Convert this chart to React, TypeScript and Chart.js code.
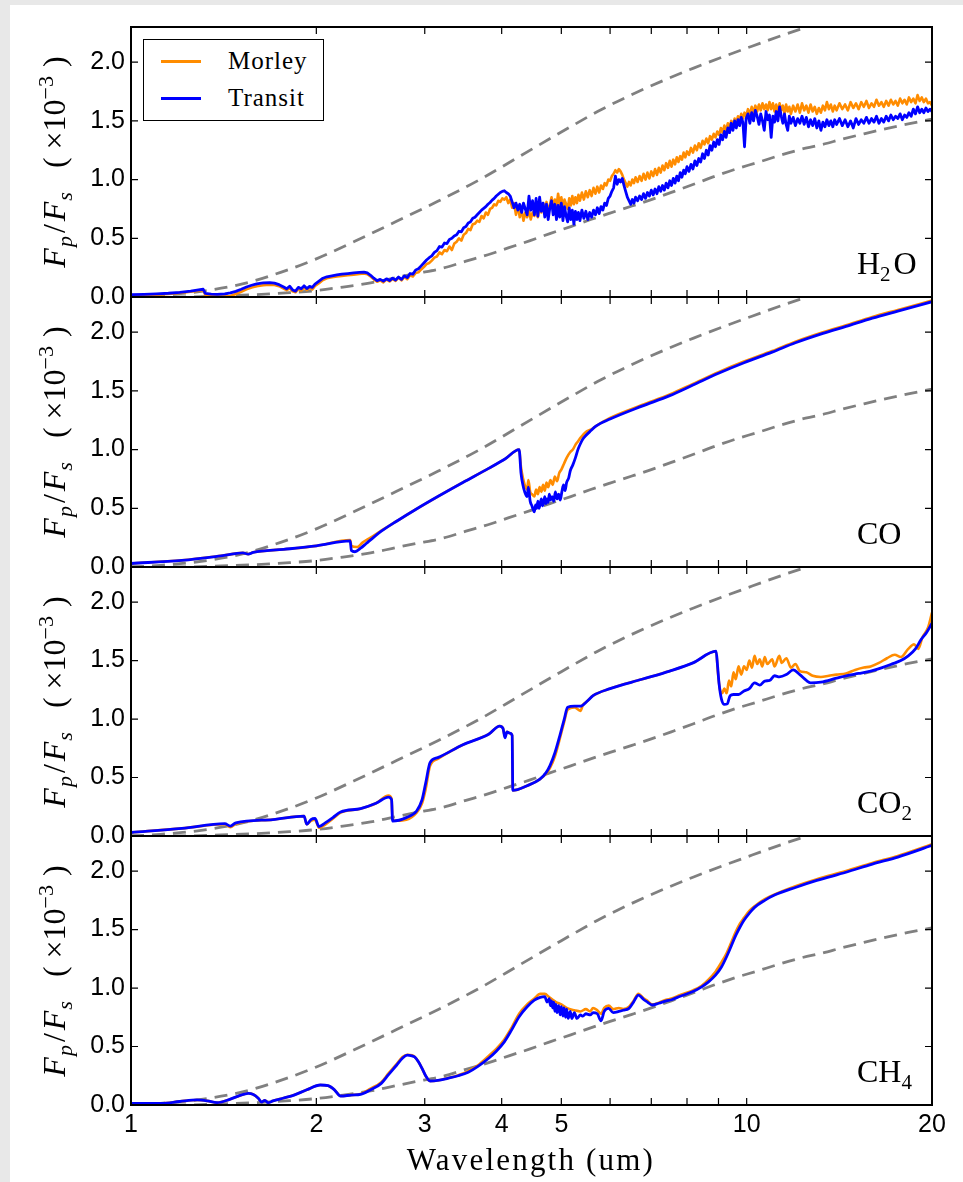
import React, { useEffect, useRef } from "react";
import { Chart, registerables } from "chart.js";

Chart.register(...registerables);

// ---------------- data ----------------
const X_MIN = 1;
const X_MAX = 20;
const Y_MIN = 0;
const Y_MAX = 2.3;
const X_TICKS = [1, 2, 3, 4, 5, 6, 7, 8, 9, 10, 20];
const X_LABELS = [1, 2, 3, 4, 5, 10, 20];
const Y_TICKS = [0, 0.5, 1.0, 1.5, 2.0];
const SERIES_NAMES = ["Morley", "Transit"];
const PANEL_NAMES = ["H2O", "CO", "CO2", "CH4"];
const X_TITLE = "Wavelength (um)";

type Pt = [number, number];

const BB_UPPER: Pt[] = [
  [1.0, 0.0], [1.1, 0.012], [1.25, 0.037], [1.5, 0.105], [1.75, 0.21], [2.0, 0.325],
  [2.3, 0.47], [2.7, 0.645], [3.15, 0.815], [3.7, 1.005], [4.3, 1.205], [5.0, 1.405],
  [5.8, 1.595], [6.8, 1.77], [8.2, 1.95], [10, 2.12], [12.2, 2.28], [15, 2.42], [20, 2.56],
];

const BB_LOWER: Pt[] = [
  [1.0, 0.0], [1.2, 0.0], [1.4, 0.01], [1.6, 0.02], [1.81, 0.037], [2.0, 0.055],
  [2.21, 0.085], [2.45, 0.12], [2.65, 0.157], [2.9, 0.2], [3.18, 0.24], [3.5, 0.305],
  [3.8, 0.36], [4.11, 0.42], [4.45, 0.48], [4.79, 0.54], [5.18, 0.6], [5.58, 0.66],
  [6.0, 0.715], [6.51, 0.775], [7.0, 0.83], [7.63, 0.9], [8.2, 0.96], [8.9, 1.03],
  [9.6, 1.09], [10.4, 1.145], [11.3, 1.205], [12.3, 1.26], [13.3, 1.3], [14.3, 1.345],
  [15.5, 1.39], [16.7, 1.43], [18.3, 1.475], [20, 1.515],
];

const H2O_TRANSIT: Pt[] = [
  [1.0, 0.02], [1.05, 0.022], [1.1, 0.026], [1.15, 0.032], [1.2, 0.04], [1.25, 0.05], [1.28, 0.058],
  [1.31, 0.066], [1.32, 0.03], [1.35, 0.025], [1.38, 0.022], [1.42, 0.026], [1.45, 0.035], [1.48, 0.048],
  [1.51, 0.066], [1.54, 0.085], [1.57, 0.1], [1.6, 0.112], [1.64, 0.12], [1.68, 0.122], [1.71, 0.118],
  [1.74, 0.105], [1.77, 0.085], [1.79, 0.07], [1.81, 0.092], [1.83, 0.06], [1.85, 0.05], [1.87, 0.082],
  [1.89, 0.07], [1.91, 0.095], [1.93, 0.072], [1.95, 0.09], [1.97, 0.082], [1.99, 0.11], [2.02, 0.135],
  [2.05, 0.16], [2.08, 0.172], [2.12, 0.18], [2.16, 0.188], [2.2, 0.195], [2.25, 0.2], [2.3, 0.205],
  [2.35, 0.21], [2.39, 0.212], [2.42, 0.205], [2.45, 0.185], [2.48, 0.16], [2.51, 0.14], [2.54, 0.15],
  [2.57, 0.135], [2.6, 0.155], [2.63, 0.14], [2.66, 0.16], [2.69, 0.145], [2.72, 0.17], [2.75, 0.15],
  [2.78, 0.18], [2.81, 0.165], [2.84, 0.2], [2.87, 0.195], [2.9, 0.23], [2.93, 0.24], [2.96, 0.265],
  [2.99, 0.29], [3.02, 0.315], [3.05, 0.335], [3.08, 0.35], [3.11, 0.38], [3.14, 0.395], [3.17, 0.43],
  [3.2, 0.425], [3.23, 0.46], [3.26, 0.455], [3.29, 0.49], [3.32, 0.5], [3.35, 0.52], [3.38, 0.53],
  [3.41, 0.56], [3.44, 0.555], [3.47, 0.59], [3.5, 0.6], [3.53, 0.63], [3.56, 0.64], [3.59, 0.67],
  [3.62, 0.68], [3.65, 0.7], [3.68, 0.72], [3.71, 0.74], [3.74, 0.755], [3.77, 0.77], [3.8, 0.79],
  [3.83, 0.805], [3.86, 0.825], [3.89, 0.84], [3.92, 0.86], [3.95, 0.875], [3.98, 0.89], [4.01, 0.9],
  [4.04, 0.905], [4.07, 0.89], [4.1, 0.88], [4.13, 0.86], [4.16, 0.81], [4.19, 0.76], [4.22, 0.8],
  [4.25, 0.74], [4.28, 0.79], [4.31, 0.72], [4.34, 0.8], [4.37, 0.75], [4.4, 0.7], [4.43, 0.86],
  [4.46, 0.74], [4.49, 0.82], [4.52, 0.7], [4.55, 0.84], [4.58, 0.69], [4.61, 0.85], [4.64, 0.73],
  [4.67, 0.8], [4.7, 0.68], [4.73, 0.79], [4.76, 0.66], [4.79, 0.76], [4.82, 0.82], [4.85, 0.7],
  [4.88, 0.79], [4.91, 0.66], [4.94, 0.78], [4.97, 0.68], [5.0, 0.8], [5.03, 0.65], [5.06, 0.77],
  [5.09, 0.69], [5.12, 0.64], [5.15, 0.76], [5.18, 0.66], [5.21, 0.74], [5.24, 0.62], [5.27, 0.73],
  [5.3, 0.66], [5.33, 0.72], [5.36, 0.65], [5.4, 0.74], [5.44, 0.67], [5.48, 0.73], [5.52, 0.66],
  [5.56, 0.72], [5.6, 0.68], [5.64, 0.74], [5.68, 0.7], [5.72, 0.76], [5.76, 0.71], [5.8, 0.77],
  [5.84, 0.74], [5.88, 0.8], [5.92, 0.78], [5.96, 0.84], [6.0, 0.86], [6.04, 0.9], [6.08, 0.93],
  [6.12, 1.03], [6.16, 0.96], [6.2, 1.0], [6.24, 0.98], [6.28, 1.01], [6.32, 0.95], [6.36, 0.9],
  [6.4, 0.85], [6.44, 0.82], [6.48, 0.79], [6.52, 0.83], [6.56, 0.8], [6.6, 0.85], [6.65, 0.82],
  [6.7, 0.86], [6.75, 0.83], [6.8, 0.88], [6.85, 0.84], [6.9, 0.89], [6.95, 0.86], [7.0, 0.91],
  [7.05, 0.87], [7.1, 0.92], [7.15, 0.88], [7.2, 0.94], [7.25, 0.9], [7.3, 0.95], [7.35, 0.91],
  [7.4, 0.97], [7.45, 0.93], [7.5, 0.99], [7.55, 0.95], [7.6, 1.01], [7.65, 0.97], [7.7, 1.03],
  [7.75, 0.99], [7.8, 1.06], [7.85, 1.02], [7.9, 1.08], [7.95, 1.05], [8.0, 1.11], [8.06, 1.07],
  [8.12, 1.13], [8.18, 1.09], [8.24, 1.16], [8.3, 1.12], [8.36, 1.18], [8.42, 1.15], [8.48, 1.22],
  [8.54, 1.18], [8.6, 1.25], [8.66, 1.21], [8.72, 1.29], [8.78, 1.25], [8.84, 1.32], [8.9, 1.28],
  [8.96, 1.34], [9.02, 1.3], [9.08, 1.38], [9.14, 1.34], [9.2, 1.41], [9.26, 1.36], [9.32, 1.44],
  [9.38, 1.4], [9.44, 1.48], [9.5, 1.42], [9.56, 1.5], [9.62, 1.44], [9.68, 1.51], [9.74, 1.46],
  [9.8, 1.53], [9.86, 1.49], [9.92, 1.28], [9.98, 1.52], [10.05, 1.56], [10.12, 1.48], [10.19, 1.57],
  [10.26, 1.5], [10.33, 1.59], [10.4, 1.54], [10.47, 1.47], [10.54, 1.56], [10.61, 1.5], [10.68, 1.42],
  [10.75, 1.58], [10.82, 1.51], [10.89, 1.55], [10.96, 1.36], [11.03, 1.54], [11.1, 1.49], [11.17, 1.58],
  [11.24, 1.5], [11.31, 1.62], [11.38, 1.54], [11.45, 1.48], [11.52, 1.56], [11.59, 1.47], [11.66, 1.42],
  [11.73, 1.54], [11.8, 1.48], [11.9, 1.53], [12.0, 1.46], [12.1, 1.52], [12.2, 1.48], [12.3, 1.54],
  [12.4, 1.47], [12.5, 1.53], [12.6, 1.45], [12.7, 1.51], [12.8, 1.46], [12.9, 1.52], [13.0, 1.44],
  [13.1, 1.5], [13.2, 1.42], [13.3, 1.49], [13.4, 1.45], [13.5, 1.51], [13.6, 1.46], [13.7, 1.5],
  [13.8, 1.45], [13.9, 1.51], [14.0, 1.47], [14.15, 1.52], [14.3, 1.46], [14.45, 1.51], [14.6, 1.45],
  [14.75, 1.5], [14.9, 1.44], [15.05, 1.52], [15.2, 1.47], [15.35, 1.51], [15.5, 1.48], [15.65, 1.53],
  [15.8, 1.48], [15.95, 1.52], [16.1, 1.49], [16.25, 1.54], [16.4, 1.48], [16.55, 1.52], [16.7, 1.49],
  [16.85, 1.54], [17.0, 1.5], [17.15, 1.55], [17.3, 1.51], [17.45, 1.54], [17.6, 1.52], [17.75, 1.56],
  [17.9, 1.51], [18.05, 1.55], [18.2, 1.53], [18.35, 1.57], [18.5, 1.54], [18.65, 1.6], [18.8, 1.56],
  [18.95, 1.62], [19.1, 1.57], [19.25, 1.6], [19.4, 1.57], [19.55, 1.61], [19.7, 1.58], [19.85, 1.6],
  [20.0, 1.58],
];

const H2O_MORLEY: Pt[] = [
  [1.0, 0.015], [1.05, 0.017], [1.1, 0.02], [1.15, 0.026], [1.2, 0.035], [1.25, 0.045], [1.28, 0.052],
  [1.31, 0.058], [1.32, 0.02], [1.35, 0.01], [1.38, 0.004], [1.42, 0.003], [1.45, 0.008], [1.48, 0.025],
  [1.51, 0.045], [1.54, 0.065], [1.57, 0.08], [1.6, 0.092], [1.64, 0.1], [1.68, 0.104], [1.71, 0.102],
  [1.74, 0.092], [1.77, 0.072], [1.79, 0.058], [1.81, 0.075], [1.83, 0.048], [1.85, 0.04], [1.87, 0.068],
  [1.89, 0.055], [1.91, 0.08], [1.93, 0.06], [1.95, 0.078], [1.97, 0.065], [1.99, 0.095], [2.02, 0.118],
  [2.05, 0.145], [2.08, 0.16], [2.12, 0.168], [2.16, 0.175], [2.2, 0.18], [2.25, 0.185], [2.3, 0.19],
  [2.35, 0.196], [2.39, 0.2], [2.42, 0.195], [2.45, 0.175], [2.48, 0.15], [2.51, 0.13], [2.54, 0.142],
  [2.57, 0.125], [2.6, 0.15], [2.63, 0.132], [2.66, 0.155], [2.69, 0.138], [2.72, 0.165], [2.75, 0.142],
  [2.78, 0.172], [2.81, 0.152], [2.84, 0.185], [2.87, 0.175], [2.9, 0.205], [2.93, 0.21], [2.96, 0.235],
  [2.99, 0.255], [3.02, 0.28], [3.05, 0.29], [3.08, 0.31], [3.11, 0.335], [3.14, 0.345], [3.17, 0.38],
  [3.2, 0.365], [3.23, 0.4], [3.26, 0.39], [3.29, 0.43], [3.32, 0.4], [3.35, 0.455], [3.38, 0.47],
  [3.41, 0.5], [3.44, 0.48], [3.47, 0.53], [3.5, 0.545], [3.53, 0.58], [3.56, 0.57], [3.59, 0.62],
  [3.62, 0.625], [3.65, 0.65], [3.68, 0.64], [3.71, 0.69], [3.74, 0.67], [3.77, 0.72], [3.8, 0.7],
  [3.83, 0.75], [3.86, 0.76], [3.89, 0.79], [3.92, 0.78], [3.95, 0.82], [3.98, 0.81], [4.01, 0.84],
  [4.04, 0.83], [4.07, 0.85], [4.1, 0.8], [4.13, 0.83], [4.16, 0.76], [4.19, 0.8], [4.22, 0.7],
  [4.25, 0.78], [4.28, 0.68], [4.31, 0.74], [4.34, 0.65], [4.37, 0.72], [4.4, 0.68], [4.43, 0.74],
  [4.46, 0.66], [4.49, 0.72], [4.52, 0.69], [4.55, 0.75], [4.58, 0.68], [4.61, 0.78], [4.64, 0.72],
  [4.67, 0.8], [4.7, 0.73], [4.73, 0.81], [4.76, 0.74], [4.79, 0.78], [4.82, 0.85], [4.85, 0.76],
  [4.88, 0.83], [4.91, 0.77], [4.94, 0.88], [4.97, 0.79], [5.0, 0.85], [5.03, 0.76], [5.06, 0.83],
  [5.09, 0.79], [5.12, 0.75], [5.15, 0.84], [5.18, 0.78], [5.21, 0.86], [5.24, 0.79], [5.27, 0.85],
  [5.3, 0.8], [5.33, 0.87], [5.36, 0.82], [5.4, 0.89], [5.44, 0.83], [5.48, 0.9], [5.52, 0.85],
  [5.56, 0.91], [5.6, 0.86], [5.64, 0.93], [5.68, 0.88], [5.72, 0.94], [5.76, 0.89], [5.8, 0.95],
  [5.84, 0.92], [5.88, 0.97], [5.92, 0.95], [5.96, 1.0], [6.0, 0.99], [6.04, 1.03], [6.08, 1.05],
  [6.12, 1.08], [6.16, 1.06], [6.2, 1.09], [6.24, 1.07], [6.28, 1.04], [6.32, 1.0], [6.36, 0.97],
  [6.4, 0.94], [6.44, 0.98], [6.48, 0.95], [6.52, 1.0], [6.56, 0.97], [6.6, 1.02], [6.65, 0.98],
  [6.7, 1.03], [6.75, 0.99], [6.8, 1.05], [6.85, 1.0], [6.9, 1.06], [6.95, 1.01], [7.0, 1.07],
  [7.05, 1.03], [7.1, 1.09], [7.15, 1.04], [7.2, 1.1], [7.25, 1.06], [7.3, 1.12], [7.35, 1.08],
  [7.4, 1.14], [7.45, 1.1], [7.5, 1.16], [7.55, 1.11], [7.6, 1.17], [7.65, 1.13], [7.7, 1.19],
  [7.75, 1.15], [7.8, 1.2], [7.85, 1.17], [7.9, 1.23], [7.95, 1.19], [8.0, 1.24], [8.06, 1.21],
  [8.12, 1.27], [8.18, 1.23], [8.24, 1.29], [8.3, 1.25], [8.36, 1.31], [8.42, 1.27], [8.48, 1.33],
  [8.54, 1.3], [8.6, 1.35], [8.66, 1.31], [8.72, 1.37], [8.78, 1.34], [8.84, 1.39], [8.9, 1.36],
  [8.96, 1.41], [9.02, 1.38], [9.08, 1.44], [9.14, 1.4], [9.2, 1.46], [9.26, 1.42], [9.32, 1.48],
  [9.38, 1.44], [9.44, 1.5], [9.5, 1.46], [9.56, 1.52], [9.62, 1.48], [9.68, 1.54], [9.74, 1.5],
  [9.8, 1.56], [9.86, 1.52], [9.92, 1.57], [9.98, 1.54], [10.05, 1.6], [10.12, 1.55], [10.19, 1.62],
  [10.26, 1.57], [10.33, 1.63], [10.4, 1.58], [10.47, 1.64], [10.54, 1.59], [10.61, 1.65], [10.68, 1.6],
  [10.75, 1.64], [10.82, 1.59], [10.89, 1.66], [10.96, 1.6], [11.03, 1.65], [11.1, 1.58], [11.17, 1.64],
  [11.24, 1.57], [11.31, 1.65], [11.38, 1.59], [11.45, 1.63], [11.52, 1.56], [11.59, 1.64], [11.66, 1.58],
  [11.73, 1.62], [11.8, 1.56], [11.9, 1.63], [12.0, 1.58], [12.1, 1.64], [12.2, 1.57], [12.3, 1.65],
  [12.4, 1.59], [12.5, 1.63], [12.6, 1.57], [12.7, 1.64], [12.8, 1.58], [12.9, 1.62], [13.0, 1.56],
  [13.1, 1.61], [13.2, 1.57], [13.3, 1.63], [13.4, 1.59], [13.5, 1.66], [13.6, 1.6], [13.7, 1.64],
  [13.8, 1.58], [13.9, 1.63], [14.0, 1.59], [14.15, 1.65], [14.3, 1.6], [14.45, 1.64], [14.6, 1.59],
  [14.75, 1.66], [14.9, 1.61], [15.05, 1.65], [15.2, 1.6], [15.35, 1.66], [15.5, 1.62], [15.65, 1.67],
  [15.8, 1.61], [15.95, 1.65], [16.1, 1.62], [16.25, 1.68], [16.4, 1.63], [16.55, 1.66], [16.7, 1.62],
  [16.85, 1.67], [17.0, 1.63], [17.15, 1.68], [17.3, 1.64], [17.45, 1.67], [17.6, 1.63], [17.75, 1.69],
  [17.9, 1.65], [18.05, 1.68], [18.2, 1.64], [18.35, 1.7], [18.5, 1.66], [18.65, 1.69], [18.8, 1.65],
  [18.95, 1.72], [19.1, 1.67], [19.25, 1.7], [19.4, 1.66], [19.55, 1.69], [19.7, 1.65], [19.85, 1.66],
  [20.0, 1.63],
];

const CO_TRANSIT: Pt[] = [
  [1.0, 0.03], [1.21, 0.057], [1.4, 0.095], [1.52, 0.12], [1.55, 0.11], [1.58, 0.125],
  [1.77, 0.15], [2.0, 0.18], [2.27, 0.222], [2.28, 0.14], [2.31, 0.13], [2.36, 0.16],
  [2.41, 0.2], [2.48, 0.255], [2.55, 0.305], [2.7, 0.39], [2.9, 0.49], [3.15, 0.6],
  [3.46, 0.72], [3.81, 0.84], [4.05, 0.92], [4.27, 1.0], [4.3, 0.8], [4.33, 0.7],
  [4.36, 0.64], [4.4, 0.6], [4.42, 0.68], [4.45, 0.56], [4.48, 0.52], [4.5, 0.49], [4.52, 0.47],
  [4.54, 0.53], [4.56, 0.5], [4.58, 0.56], [4.6, 0.5], [4.62, 0.54], [4.64, 0.58], [4.66, 0.52],
  [4.68, 0.55], [4.7, 0.6], [4.72, 0.54], [4.74, 0.58], [4.76, 0.55], [4.78, 0.62], [4.8, 0.57],
  [4.83, 0.6], [4.86, 0.56], [4.89, 0.64], [4.92, 0.58], [4.95, 0.62], [4.98, 0.57], [5.01, 0.64],
  [5.04, 0.7], [5.07, 0.65], [5.1, 0.72], [5.14, 0.76], [5.17, 0.82], [5.22, 0.87], [5.27, 0.93],
  [5.32, 1.0], [5.37, 1.05], [5.42, 1.09], [5.48, 1.12], [5.58, 1.16], [5.69, 1.2], [6.0, 1.26],
  [6.76, 1.37], [7.5, 1.46], [8.18, 1.55], [9.0, 1.65], [9.9, 1.74], [11.0, 1.83],
  [12.0, 1.91], [13.3, 1.99], [14.5, 2.05], [16.0, 2.12], [17.6, 2.18], [20.0, 2.26],
];

const CO_MORLEY: Pt[] = [
  [1.0, 0.03], [1.21, 0.057], [1.4, 0.095], [1.52, 0.12], [1.55, 0.11], [1.58, 0.125],
  [1.77, 0.15], [2.0, 0.18], [2.27, 0.23], [2.28, 0.18], [2.33, 0.17], [2.38, 0.21],
  [2.45, 0.25], [2.55, 0.31], [2.7, 0.39], [2.9, 0.49], [3.15, 0.6], [3.46, 0.72],
  [3.81, 0.84], [4.05, 0.92], [4.27, 1.0], [4.3, 0.85], [4.33, 0.76], [4.36, 0.7], [4.4, 0.66],
  [4.42, 0.74], [4.45, 0.64], [4.48, 0.62], [4.52, 0.6], [4.55, 0.66], [4.58, 0.62], [4.61, 0.68],
  [4.64, 0.64], [4.67, 0.7], [4.7, 0.65], [4.73, 0.72], [4.76, 0.68], [4.8, 0.74], [4.84, 0.7],
  [4.88, 0.77], [4.92, 0.73], [4.96, 0.8], [5.0, 0.83], [5.05, 0.88], [5.1, 0.93], [5.17, 0.98],
  [5.22, 1.0], [5.27, 1.04], [5.32, 1.07], [5.37, 1.1], [5.48, 1.15], [5.58, 1.17], [5.69, 1.2],
  [6.0, 1.27], [6.76, 1.38], [7.5, 1.47], [8.18, 1.56], [9.0, 1.66], [9.9, 1.75], [11.0, 1.84],
  [12.0, 1.92], [13.3, 2.0], [14.5, 2.06], [16.0, 2.13], [17.6, 2.19], [20.0, 2.27],
];

const CO2_TRANSIT: Pt[] = [
  [1.0, 0.03], [1.21, 0.065], [1.42, 0.105], [1.45, 0.085], [1.48, 0.112], [1.7, 0.14],
  [1.91, 0.17], [1.93, 0.1], [1.96, 0.14], [1.99, 0.15], [2.02, 0.08], [2.07, 0.114],
  [2.13, 0.16], [2.19, 0.205], [2.36, 0.234], [2.5, 0.28], [2.62, 0.333], [2.65, 0.31],
  [2.66, 0.128], [2.8, 0.157], [2.91, 0.214], [2.97, 0.31], [3.01, 0.45], [3.06, 0.627],
  [3.15, 0.67], [3.46, 0.78], [3.81, 0.87], [3.97, 0.94], [4.02, 0.92], [4.05, 0.84],
  [4.08, 0.89], [4.12, 0.88], [4.16, 0.86], [4.17, 0.39], [4.4, 0.43], [4.61, 0.484],
  [4.72, 0.54], [4.79, 0.6], [4.88, 0.71], [4.97, 0.855], [5.05, 0.99], [5.12, 1.1],
  [5.25, 1.11], [5.37, 1.11], [5.5, 1.15], [5.63, 1.2], [6.0, 1.26], [6.76, 1.34],
  [7.5, 1.41], [8.18, 1.48], [8.92, 1.58], [8.97, 1.45], [9.02, 1.3], [9.1, 1.17],
  [9.2, 1.125], [9.3, 1.13], [9.4, 1.2], [9.52, 1.21], [9.7, 1.21], [9.9, 1.24],
  [10.1, 1.26], [10.3, 1.31], [10.5, 1.29], [10.7, 1.325], [10.9, 1.33], [11.1, 1.37],
  [11.3, 1.36], [11.6, 1.38], [11.9, 1.42], [12.2, 1.38], [12.5, 1.33], [12.7, 1.31],
  [13.2, 1.316], [14.0, 1.35], [14.5, 1.37], [15.2, 1.39], [15.9, 1.41], [16.6, 1.44],
  [17.2, 1.47], [17.8, 1.5], [18.3, 1.54], [18.8, 1.6], [19.2, 1.68], [19.6, 1.74],
  [20.0, 1.82],
];

const CO2_MORLEY: Pt[] = [
  [1.0, 0.03], [1.21, 0.065], [1.42, 0.1], [1.45, 0.075], [1.48, 0.105], [1.7, 0.14],
  [1.91, 0.17], [1.93, 0.1], [1.96, 0.13], [1.99, 0.14], [2.02, 0.07], [2.07, 0.1],
  [2.13, 0.15], [2.19, 0.2], [2.36, 0.234], [2.5, 0.28], [2.62, 0.345], [2.65, 0.32],
  [2.66, 0.13], [2.8, 0.14], [2.91, 0.2], [2.97, 0.28], [3.01, 0.4], [3.06, 0.6],
  [3.15, 0.66], [3.46, 0.78], [3.81, 0.87], [3.97, 0.94], [4.02, 0.92], [4.05, 0.85],
  [4.08, 0.89], [4.12, 0.88], [4.16, 0.86], [4.17, 0.39], [4.4, 0.43], [4.61, 0.484],
  [4.72, 0.53], [4.79, 0.58], [4.88, 0.68], [4.97, 0.83], [5.05, 0.97], [5.12, 1.08],
  [5.25, 1.1], [5.37, 1.07], [5.42, 1.12], [5.5, 1.15], [5.63, 1.2], [6.0, 1.26],
  [6.76, 1.34], [7.5, 1.41], [8.18, 1.48], [8.92, 1.58], [8.98, 1.4], [9.05, 1.25],
  [9.12, 1.22], [9.2, 1.26], [9.28, 1.22], [9.36, 1.33], [9.44, 1.28], [9.52, 1.4],
  [9.6, 1.34], [9.7, 1.45], [9.8, 1.38], [9.9, 1.45], [10.0, 1.42], [10.1, 1.5],
  [10.2, 1.44], [10.3, 1.54], [10.4, 1.47], [10.5, 1.51], [10.6, 1.45], [10.7, 1.53],
  [10.8, 1.47], [11.0, 1.51], [11.1, 1.45], [11.3, 1.54], [11.4, 1.48], [11.6, 1.52],
  [11.8, 1.44], [12.0, 1.47], [12.2, 1.41], [12.5, 1.4], [12.8, 1.37], [13.2, 1.36],
  [13.6, 1.37], [14.0, 1.38], [14.5, 1.39], [15.0, 1.42], [15.5, 1.44], [15.9, 1.45],
  [16.4, 1.48], [16.9, 1.52], [17.4, 1.55], [17.8, 1.53], [18.3, 1.6], [18.7, 1.64],
  [19.0, 1.6], [19.3, 1.7], [19.7, 1.78], [20.0, 1.91],
];

const CH4_TRANSIT: Pt[] = [
  [1.0, 0.014], [1.12, 0.014], [1.2, 0.03], [1.28, 0.043], [1.33, 0.035], [1.38, 0.02],
  [1.45, 0.05], [1.5, 0.08], [1.55, 0.1], [1.58, 0.09], [1.61, 0.057], [1.63, 0.025],
  [1.65, 0.04], [1.67, 0.02], [1.7, 0.035], [1.77, 0.06], [1.84, 0.085], [1.93, 0.13],
  [2.03, 0.171], [2.09, 0.165], [2.14, 0.13], [2.19, 0.077], [2.28, 0.085], [2.36, 0.091],
  [2.45, 0.13], [2.55, 0.185], [2.62, 0.26], [2.7, 0.34], [2.76, 0.4], [2.81, 0.427],
  [2.86, 0.42], [2.89, 0.41], [2.93, 0.37], [2.97, 0.313], [3.01, 0.25], [3.06, 0.205],
  [3.15, 0.21], [3.27, 0.228], [3.4, 0.25], [3.53, 0.28], [3.66, 0.33], [3.81, 0.4],
  [3.92, 0.46], [4.04, 0.54], [4.15, 0.64], [4.27, 0.755], [4.4, 0.84], [4.52, 0.897],
  [4.62, 0.92], [4.7, 0.926], [4.74, 0.88], [4.78, 0.91], [4.8, 0.85], [4.82, 0.89], [4.84, 0.83],
  [4.86, 0.88], [4.88, 0.8], [4.9, 0.86], [4.92, 0.79], [4.95, 0.85], [4.98, 0.77], [5.0, 0.84],
  [5.03, 0.76], [5.05, 0.83], [5.08, 0.75], [5.1, 0.82], [5.13, 0.74], [5.17, 0.8], [5.2, 0.74],
  [5.25, 0.79], [5.3, 0.74], [5.37, 0.77], [5.42, 0.76], [5.48, 0.78], [5.57, 0.77], [5.63, 0.79],
  [5.72, 0.78], [5.8, 0.72], [5.87, 0.8], [5.97, 0.826], [6.07, 0.79], [6.2, 0.8], [6.3, 0.81],
  [6.44, 0.826], [6.55, 0.88], [6.67, 0.94], [6.75, 0.92], [6.81, 0.9], [6.9, 0.88], [7.02, 0.855],
  [7.2, 0.87], [7.4, 0.89], [7.55, 0.9], [7.8, 0.93], [8.18, 0.97], [8.45, 1.01],
  [8.66, 1.05], [8.9, 1.11], [9.1, 1.18], [9.28, 1.27], [9.44, 1.36], [9.6, 1.45],
  [9.75, 1.52], [9.9, 1.58], [10.1, 1.64], [10.3, 1.69], [10.7, 1.75], [11.1, 1.795],
  [12.0, 1.86], [13.0, 1.92], [14.5, 1.99], [16.0, 2.06], [17.6, 2.12], [20.0, 2.22],
];

const CH4_MORLEY: Pt[] = [
  [1.0, 0.014], [1.12, 0.014], [1.2, 0.03], [1.28, 0.043], [1.33, 0.035], [1.38, 0.02],
  [1.45, 0.05], [1.5, 0.08], [1.55, 0.1], [1.58, 0.09], [1.61, 0.057], [1.63, 0.025],
  [1.65, 0.04], [1.67, 0.02], [1.7, 0.035], [1.77, 0.06], [1.84, 0.085], [1.93, 0.13],
  [2.03, 0.171], [2.09, 0.165], [2.14, 0.13], [2.19, 0.077], [2.28, 0.085], [2.36, 0.095],
  [2.45, 0.14], [2.55, 0.195], [2.62, 0.27], [2.7, 0.35], [2.76, 0.41], [2.81, 0.43],
  [2.86, 0.425], [2.89, 0.41], [2.93, 0.37], [2.97, 0.313], [3.01, 0.25], [3.06, 0.205],
  [3.15, 0.21], [3.27, 0.23], [3.4, 0.255], [3.53, 0.29], [3.66, 0.34], [3.81, 0.42],
  [3.92, 0.48], [4.04, 0.56], [4.15, 0.66], [4.27, 0.78], [4.4, 0.86], [4.52, 0.91],
  [4.62, 0.95], [4.7, 0.95], [4.78, 0.92], [4.84, 0.9], [4.9, 0.88], [5.0, 0.86],
  [5.1, 0.83], [5.25, 0.81], [5.37, 0.8], [5.48, 0.82], [5.57, 0.8], [5.63, 0.83],
  [5.72, 0.81], [5.8, 0.78], [5.87, 0.83], [5.97, 0.85], [6.07, 0.82], [6.2, 0.83],
  [6.3, 0.82], [6.44, 0.84], [6.55, 0.89], [6.67, 0.95], [6.75, 0.93], [6.81, 0.91],
  [6.9, 0.89], [7.02, 0.86], [7.2, 0.875], [7.4, 0.9], [7.55, 0.91], [7.8, 0.94],
  [8.18, 0.98], [8.45, 1.02], [8.66, 1.07], [8.9, 1.14], [9.1, 1.22], [9.28, 1.3],
  [9.44, 1.39], [9.6, 1.48], [9.75, 1.55], [9.9, 1.6], [10.1, 1.66], [10.3, 1.7],
  [10.7, 1.76], [11.1, 1.8], [12.0, 1.87], [13.0, 1.93], [14.5, 2.0], [16.0, 2.07],
  [17.6, 2.13], [20.0, 2.23],
];

const MORLEY_SERIES = [H2O_MORLEY, CO_MORLEY, CO2_MORLEY, CH4_MORLEY];
const TRANSIT_SERIES = [H2O_TRANSIT, CO_TRANSIT, CO2_TRANSIT, CH4_TRANSIT];

// ---------------- styles / layout ----------------
const ORANGE = "#ff8c00";
const BLUE = "#0000ff";
const GREY = "#808080";
const SERIF = '"Liberation Serif", "DejaVu Serif", serif';
const SANS = '"Liberation Sans", Arial, sans-serif';

const W = 963;
const H = 1182;
const PLOT_LEFT = 131;
const PLOT_RIGHT = 932;
const PANEL_TOPS = [27, 297, 567, 836];
const PANEL_HEIGHTS = [270, 270, 269, 269];
const PAD = 24;
const XAXIS_H = 42;

const frameTicks = {
  id: "frameTicks",
  afterDraw(chart: any) {
    const { ctx, chartArea: a } = chart;
    const xs = chart.scales.x;
    const ys = chart.scales.y;
    ctx.save();
    ctx.strokeStyle = "#000";
    ctx.lineWidth = 1.2;
    ctx.beginPath();
    for (const v of X_TICKS) {
      const px = xs.getPixelForValue(v);
      ctx.moveTo(px, a.bottom);
      ctx.lineTo(px, a.bottom - 7);
      ctx.moveTo(px, a.top);
      ctx.lineTo(px, a.top + 7);
    }
    for (const v of Y_TICKS) {
      const py = ys.getPixelForValue(v);
      ctx.moveTo(a.left, py);
      ctx.lineTo(a.left + 7, py);
      ctx.moveTo(a.right, py);
      ctx.lineTo(a.right - 7, py);
    }
    ctx.stroke();
    ctx.lineWidth = 2;
    ctx.strokeRect(a.left, a.top, a.right - a.left, a.bottom - a.top);
    ctx.restore();
  },
};

const toPts = (arr: Pt[]) => arr.map(([x, y]) => ({ x, y }));

function makeChart(canvas: HTMLCanvasElement, i: number) {
  const showX = i === 3;
  const smooth = i === 0 ? {} : { cubicInterpolationMode: "monotone" };
  return new Chart(canvas, {
    type: "line",
    data: {
      datasets: [
        {
          label: SERIES_NAMES[1],
          data: toPts(TRANSIT_SERIES[i]),
          borderColor: BLUE,
          borderWidth: 2.8,
          pointRadius: 0,
          tension: 0,
          borderJoinStyle: "round",
          ...smooth,
        },
        {
          label: SERIES_NAMES[0],
          data: toPts(MORLEY_SERIES[i]),
          borderColor: ORANGE,
          borderWidth: 2.6,
          pointRadius: 0,
          tension: 0,
          borderJoinStyle: "round",
          ...smooth,
        },
        {
          label: "upper",
          data: toPts(BB_UPPER),
          borderColor: GREY,
          borderWidth: 2.8,
          borderDash: [13, 8],
          pointRadius: 0,
          cubicInterpolationMode: "monotone",
        },
        {
          label: "lower",
          data: toPts(BB_LOWER),
          borderColor: GREY,
          borderWidth: 2.8,
          borderDash: [13, 8],
          pointRadius: 0,
          cubicInterpolationMode: "monotone",
        },
      ],
    } as any,
    options: {
      animation: false,
      responsive: false,
      devicePixelRatio: 1,
      events: [],
      layout: {
        padding: { left: 0, right: W - PLOT_RIGHT, top: PAD, bottom: showX ? 0 : PAD },
      },
      plugins: { legend: { display: false }, tooltip: { enabled: false } },
      scales: {
        x: {
          type: "logarithmic",
          min: X_MIN,
          max: X_MAX,
          grid: { display: false, drawTicks: false },
          border: { display: false },
          afterBuildTicks: (s: any) => {
            s.ticks = X_TICKS.map((v) => ({ value: v }));
          },
          afterFit: (s: any) => {
            s.height = showX ? XAXIS_H : 0;
          },
          ticks: {
            display: showX,
            autoSkip: false,
            maxRotation: 0,
            padding: 5,
            color: "#000",
            font: { family: SANS, size: 25 },
            callback: (v: any) => (X_LABELS.includes(Number(v)) ? String(v) : ""),
          },
        },
        y: {
          type: "linear",
          min: Y_MIN,
          max: Y_MAX,
          grid: { display: false, drawTicks: false },
          border: { display: false },
          afterBuildTicks: (s: any) => {
            s.ticks = Y_TICKS.map((v) => ({ value: v }));
          },
          afterFit: (s: any) => {
            s.width = PLOT_LEFT;
          },
          ticks: {
            padding: 6,
            color: "#000",
            font: { family: SANS, size: 25 },
            callback: (v: any) => Number(v).toFixed(1),
          },
        },
      },
    } as any,
    plugins: [frameTicks],
  });
}

function YTitle({ center }: { center: number }) {
  const sub = { fontSize: 22, verticalAlign: -7 } as React.CSSProperties;
  return (
    <div
      style={{
        position: "absolute",
        left: 55,
        top: center,
        transform: "translate(-50%, -50%) rotate(-90deg)",
        whiteSpace: "nowrap",
        fontFamily: SERIF,
        fontSize: 32,
        lineHeight: "36px",
        color: "#000",
      }}
    >
      <i style={{ marginRight: 1 }}>F</i>
      <sub style={sub}>
        <i>p</i>
      </sub>
      <span style={{ margin: "0 3px" }}>/</span>
      <i style={{ marginRight: 1 }}>F</i>
      <sub style={sub}>
        <i>s</i>
      </sub>
      <span style={{ marginLeft: 24 }}>(</span>
      <span style={{ marginLeft: 8 }}>×10</span>
      <sup style={{ fontSize: 22, verticalAlign: 12 }}>−3</sup>
      <span style={{ marginLeft: 9 }}>)</span>
    </div>
  );
}

function PanelLabel({ i }: { i: number }) {
  const base = PANEL_TOPS[i] + PANEL_HEIGHTS[i] - 23;
  const name = PANEL_NAMES[i];
  let content: React.ReactNode = name;
  if (name === "H2O") {
    content = (
      <>
        H<sub style={{ fontSize: 21, verticalAlign: -7, marginRight: 3 }}>2</sub>O
      </>
    );
  } else if (/\d$/.test(name)) {
    content = (
      <>
        {name.slice(0, -1)}
        <sub style={{ fontSize: 21, verticalAlign: -7 }}>{name.slice(-1)}</sub>
      </>
    );
  }
  return (
    <div
      style={{
        position: "absolute",
        left: 857,
        top: base - 27,
        fontFamily: SERIF,
        fontSize: 32,
        lineHeight: "32px",
        whiteSpace: "nowrap",
        color: "#000",
      }}
    >
      {content}
    </div>
  );
}

export default function App() {
  const refs = [
    useRef<HTMLCanvasElement>(null),
    useRef<HTMLCanvasElement>(null),
    useRef<HTMLCanvasElement>(null),
    useRef<HTMLCanvasElement>(null),
  ];

  useEffect(() => {
    const charts = refs.map((r, i) => makeChart(r.current as HTMLCanvasElement, i));
    return () => charts.forEach((c) => c.destroy());
  }, []);

  const legendItems = [
    { label: SERIES_NAMES[0], color: ORANGE },
    { label: SERIES_NAMES[1], color: BLUE },
  ];

  return (
    <div
      style={{
        position: "absolute",
        left: 0,
        top: 0,
        width: W,
        height: H,
        overflow: "hidden",
        background: "#e8e8e8",
      }}
    >
      <div
        style={{
          position: "absolute",
          left: 10,
          top: 5,
          width: W - 10,
          height: H - 5,
          background: "#ffffff",
        }}
      />
      {PANEL_TOPS.map((t, i) => {
        const h = PANEL_HEIGHTS[i] + PAD + (i === 3 ? XAXIS_H : PAD);
        return (
          <canvas
            key={i}
            ref={refs[i]}
            width={W}
            height={h}
            style={{ position: "absolute", left: 0, top: t - PAD, width: W, height: h }}
          />
        );
      })}
      {PANEL_TOPS.map((t, i) => (
        <YTitle key={"yt" + i} center={t + PANEL_HEIGHTS[i] / 2} />
      ))}
      {PANEL_TOPS.map((t, i) => (
        <PanelLabel key={"pl" + i} i={i} />
      ))}
      <div
        style={{
          position: "absolute",
          left: 143,
          top: 39,
          width: 181,
          height: 82,
          border: "1px solid #000",
          background: "#fff",
          boxSizing: "border-box",
        }}
      >
        {legendItems.map((it, k) => (
          <div
            key={it.label}
            style={{ position: "absolute", left: 0, top: 21 + k * 37 - 16, height: 32, width: 181 }}
          >
            <div
              style={{
                position: "absolute",
                left: 17,
                top: 14.5,
                width: 40,
                height: 3,
                background: it.color,
              }}
            />
            <div
              style={{
                position: "absolute",
                left: 84,
                top: 0,
                fontFamily: SERIF,
                fontSize: 25,
                lineHeight: "32px",
                letterSpacing: 1,
                color: "#000",
                whiteSpace: "nowrap",
              }}
            >
              {it.label}
            </div>
          </div>
        ))}
      </div>
      <div
        style={{
          position: "absolute",
          left: 531,
          top: 1160,
          transform: "translate(-50%, -50%)",
          fontFamily: SERIF,
          fontSize: 31,
          letterSpacing: 2.2,
          whiteSpace: "nowrap",
          color: "#000",
        }}
      >
        {X_TITLE}
      </div>
    </div>
  );
}
